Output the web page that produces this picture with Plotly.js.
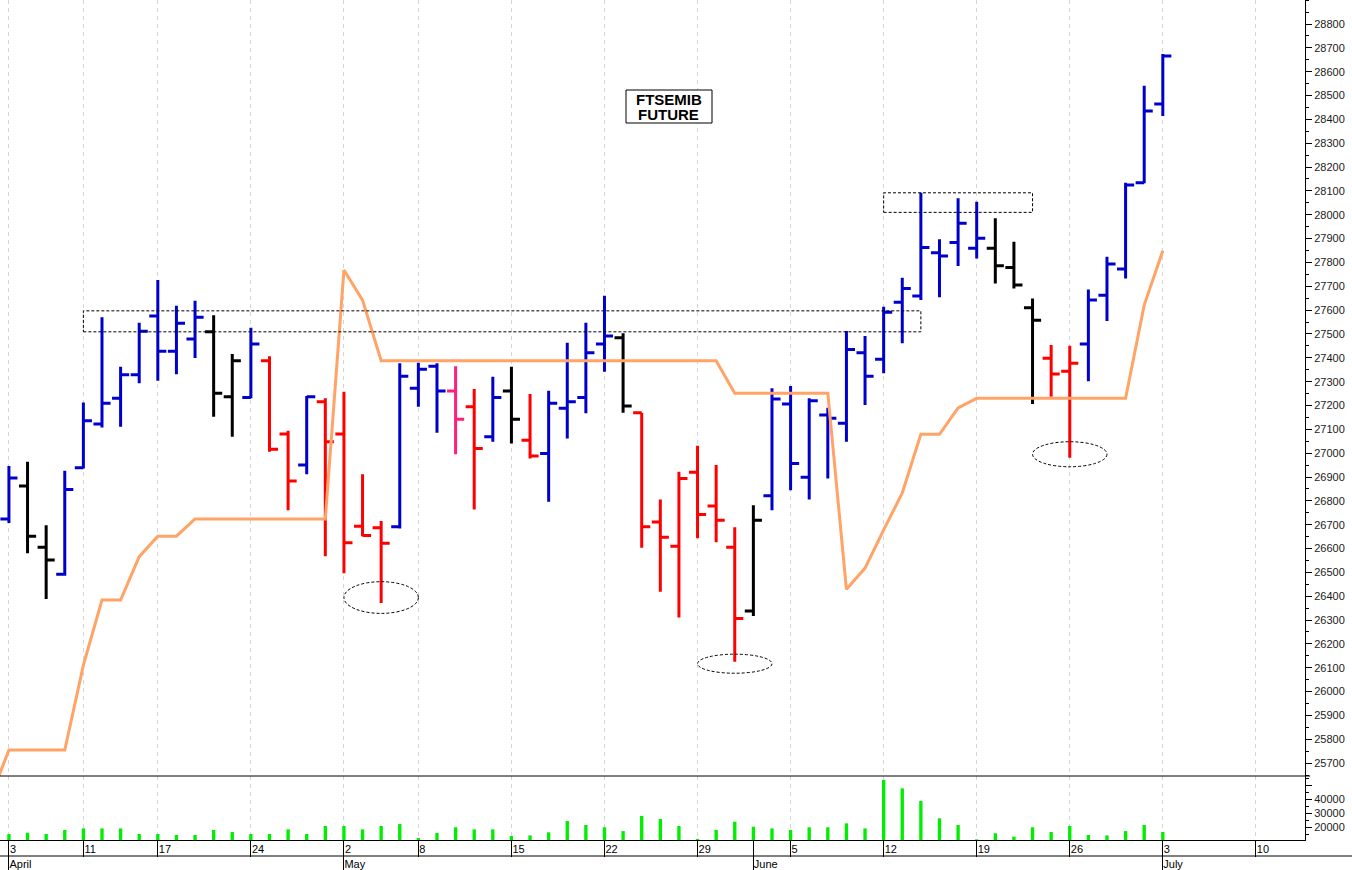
<!DOCTYPE html>
<html>
<head>
<meta charset="utf-8">
<script src="https://cdn.plot.ly/plotly-3.0.1.min.js"></script>
<style>html,body{margin:0;padding:0;background:#fff}#chart{width:1352px;height:870px}</style>
</head>
<body>
<div id="chart"></div>
<script>
// ---- data ----
const dates = [
 '2023-04-03','2023-04-04','2023-04-05','2023-04-06','2023-04-11','2023-04-12','2023-04-13','2023-04-14',
 '2023-04-17','2023-04-18','2023-04-19','2023-04-20','2023-04-21','2023-04-24','2023-04-25','2023-04-26',
 '2023-04-27','2023-04-28','2023-05-02','2023-05-03','2023-05-04','2023-05-05','2023-05-08','2023-05-09',
 '2023-05-10','2023-05-11','2023-05-12','2023-05-15','2023-05-16','2023-05-17','2023-05-18','2023-05-19',
 '2023-05-22','2023-05-23','2023-05-24','2023-05-25','2023-05-26','2023-05-29','2023-05-30','2023-05-31',
 '2023-06-01','2023-06-02','2023-06-05','2023-06-06','2023-06-07','2023-06-08','2023-06-09','2023-06-12',
 '2023-06-13','2023-06-14','2023-06-15','2023-06-16','2023-06-19','2023-06-20','2023-06-21','2023-06-22',
 '2023-06-23','2023-06-26','2023-06-27','2023-06-28','2023-06-29','2023-06-30','2023-07-03'];

const openP  = [26724,26862,26605,26492,26939,27122,27230,27329,27575,27428,27479,27509,27237,27234,27388,27080,
                26950,27216,27080,26694,26687,26691,27272,27365,27261,27195,27069,27261,27054,26999,27188,27234,
                27458,27484,27170,26711,26610,26920,26778,26605,26338,26821,27206,26899,27160,27125,27421,27394,
                27633,27659,27841,27884,27859,27859,27779,27610,27398,27344,27458,27662,27772,28134,28464];
const highP  = [26946,26964,26698,26926,27213,27570,27362,27547,27726,27618,27639,27579,27416,27526,27407,27094,
                27240,27230,27258,26912,26716,27377,27379,27377,27365,27269,27321,27362,27248,27262,27463,27547,
                27660,27503,27170,26806,26922,27031,26950,26689,26782,27272,27282,27230,27191,27512,27491,27614,
                27736,28092,27897,28069,28055,27985,27887,27649,27454,27451,27687,27824,28134,28541,28674];
const lowP   = [26707,26580,26388,26486,26936,27108,27111,27293,27304,27331,27399,27153,27069,27230,27006,26761,
                26912,26568,26496,26652,26372,26684,27195,27086,26996,26764,27048,27041,26978,26796,27062,27167,
                27342,27170,26603,26419,26311,26643,26626,26125,26317,26761,26845,26806,26894,27048,27202,27335,
                27461,27642,27654,27785,27817,27712,27691,27206,27237,26981,27302,27554,27733,28132,28414];
const closeP = [26896,26652,26552,26848,27136,27209,27329,27511,27428,27545,27570,27251,27388,27458,27016,26883,
                27237,27048,26624,26655,26622,27323,27352,27261,27142,27020,27234,27142,26988,27209,27216,27421,
                27491,27198,26691,26647,26894,26743,26719,26307,26719,27227,26957,27220,27146,27435,27323,27591,
                27691,27863,27827,27964,27901,27786,27705,27558,27332,27377,27642,27793,28125,28435,28666];
// bar signal state (colour class of each bar)
const barSignal = ['up','flat','flat','up','up','up','up','up','up','up','up','flat','flat','up','down','down',
                   'up','down','down','down','down','up','up','up','alert','down','up','flat','down','up','up','up',
                   'up','flat','down','down','down','down','down','down','flat','up','up','up','up','up','up','up',
                   'up','up','up','up','up','flat','flat','flat','down','down','up','up','up','up','up'];
// trailing stop line (value of the session before the first bar, then one per bar)
const stopPrev = 25554;
const stopLine = [25755,25755,25755,25755,26111,26384,26384,26566,26652,26652,26724,26724,26724,26724,26724,26724,
                  26724,26724,27768,27642,27388,27388,27388,27388,27388,27388,27388,27388,27388,27388,27388,27388,
                  27388,27388,27388,27388,27388,27388,27388,27251,27251,27251,27251,27251,27251,26429,26518,26678,
                  26833,27079,27079,27190,27230,27230,27230,27230,27230,27230,27230,27230,27230,27621,27849];
const volume = [15000,15900,15000,17900,19000,19000,19000,15000,15000,14300,14300,17900,16400,15000,15000,18300,
                15000,20700,20700,18300,20700,22100,12100,15700,19800,18300,18300,13600,14000,16200,24300,21400,
                19800,17100,27900,25700,20700,11500,17900,23800,20200,19000,17900,19800,19800,22600,19000,53600,
                47600,38600,26200,21400,11200,15500,13100,19800,16400,20700,14300,14000,17100,21400,16400];

// axis labels: trading-session index of each weekly tick and month start
const weekTickIndex = [0,4,8,13,18,22,27,32,37,42,47,52,57,62,67];
const weekTickText  = ['3','11','17','24','2','8','15','22','29','5','12','19','26','3','10'];
const monthTickIndex = [0,18,40,62];
const monthTickText  = ['April','May','June','July'];
const priceTicks = [25700,25800,25900,26000,26100,26200,26300,26400,26500,26600,26700,26800,26900,27000,27100,
                    27200,27300,27400,27500,27600,27700,27800,27900,28000,28100,28200,28300,28400,28500,28600,28700,28800];
const volumeTicks = [20000,30000,40000,50000];
const volumeTickText = ['20000','30000','40000',''];

// annotation zones drawn on the chart
const zoneBoxes = [
  {from:'2023-04-11', to:'2023-06-14', low:27509, high:27597},
  {from:'2023-06-12', to:'2023-06-22', low:28010, high:28092}
];
const zoneCircles = [
  {from:'2023-05-02', to:'2023-05-08', low:26328, high:26461},
  {from:'2023-05-29', to:'2023-06-02', low:26077, high:26157},
  {from:'2023-06-22', to:'2023-06-28', low:26943, high:27048}
];
const titleLines = ['FTSEMIB','FUTURE'];

// ---- build ----
const signalColors = {up:'#0000cc', down:'#ff0000', flat:'#000000', alert:'#ff1f7a'};
const idx = dates.map((d,i)=>i);
const traces = [];
Object.keys(signalColors).forEach(sig=>{
  const sel = idx.filter(i=>barSignal[i]===sig);
  const c = signalColors[sig];
  traces.push({
    type:'ohlc', xaxis:'x', yaxis:'y',
    x: sel, open: sel.map(i=>openP[i]), high: sel.map(i=>highP[i]),
    low: sel.map(i=>lowP[i]), close: sel.map(i=>closeP[i]),
    text: sel.map(i=>dates[i]),
    line:{width:3}, tickwidth:0.46,
    increasing:{line:{color:c, width:3}},
    decreasing:{line:{color:c, width:3}},
    showlegend:false
  });
});
traces.push({
  type:'scatter', mode:'lines', xaxis:'x', yaxis:'y',
  x:[-1].concat(idx), y:[stopPrev].concat(stopLine),
  line:{color:'#ffa366', width:3}, hoverinfo:'y', showlegend:false
});
traces.push({
  type:'bar', xaxis:'x', yaxis:'y2', x:idx, y:volume, width:0.18,
  marker:{color:'#00ee00', line:{width:0}}, hovertext:dates, showlegend:false
});
traces.push({type:'scatter', xaxis:'x2', yaxis:'y', x:[0], y:[null], hoverinfo:'skip', showlegend:false});

const PW = 1305, PH = 840;
const shapes = [];
const dotted = {color:'#000', width:1, dash:'3px,2px'};
zoneBoxes.forEach(z=>shapes.push({type:'rect', xref:'x', yref:'y',
  x0:dates.indexOf(z.from), x1:dates.indexOf(z.to), y0:z.low, y1:z.high, line:dotted, layer:'above'}));
zoneCircles.forEach(z=>shapes.push({type:'circle', xref:'x', yref:'y',
  x0:dates.indexOf(z.from), x1:dates.indexOf(z.to), y0:z.low, y1:z.high, line:dotted, layer:'above'}));
// panel separator and date-row line
shapes.push({type:'line', xref:'paper', yref:'paper', x0:0, x1:1.004, y0:64/PH, y1:64/PH, line:{color:'#000', width:1}});
shapes.push({type:'line', xref:'paper', yref:'paper', x0:0, x1:1352/PW, y0:-16/PH, y1:-16/PH, line:{color:'#000', width:1}});
// title box
shapes.push({type:'rect', xref:'paper', yref:'paper', x0:626/PW, x1:712/PW, y0:(PH-123)/PH, y1:(PH-90)/PH,
  line:{color:'#000', width:1}, fillcolor:'#fff', layer:'above'});

const fontFam = 'Liberation Sans, Arial, sans-serif';
const layout = {
  width:1352, height:870,
  margin:{l:0, r:47, t:0, b:30, pad:0},
  paper_bgcolor:'#fff', plot_bgcolor:'#fff',
  showlegend:false, hovermode:'closest',
  font:{family:fontFam, size:11, color:'#111'},
  xaxis:{
    domain:[0,1], anchor:'y2', range:[-0.48, 69.64],
    tickmode:'array', tickvals:weekTickIndex, ticktext:weekTickText,
    ticks:'outside', ticklen:16, tickcolor:'#000', tickwidth:1,
    ticklabelposition:'outside right', ticklabelstandoff:-1,
    tickfont:{family:fontFam, size:11, color:'#000'},
    showgrid:true, gridcolor:'#d4d4dc', griddash:'4px,4px', gridwidth:1,
    showline:true, linecolor:'#000', linewidth:1, zeroline:false,
    rangeslider:{visible:false}, fixedrange:true
  },
  xaxis2:{
    overlaying:'x', anchor:'free', position:0, side:'bottom', range:[-0.48, 69.64],
    tickmode:'array', tickvals:monthTickIndex, ticktext:monthTickText,
    ticks:'outside', ticklen:30, tickcolor:'#000', tickwidth:1,
    ticklabelposition:'outside right', ticklabelstandoff:14,
    tickfont:{family:fontFam, size:11, color:'#000'},
    showgrid:false, showline:false, zeroline:false, fixedrange:true
  },
  yaxis:{
    domain:[64/PH, 1], anchor:'x', side:'right', range:[25646, 28900.7],
    tickmode:'array', tickvals:priceTicks, ticktext:priceTicks.map(String),
    ticks:'outside', ticklen:6, tickcolor:'#000', tickwidth:1,
    minor:{dtick:50, tick0:0, ticks:'outside', ticklen:3, tickcolor:'#000', showgrid:false},
    tickfont:{family:fontFam, size:11, color:'#1a1a1a'},
    showgrid:false, showline:true, linecolor:'#000', linewidth:1, zeroline:false, fixedrange:true
  },
  yaxis2:{
    domain:[0, 64/PH], anchor:'x', side:'right', range:[10714, 56430],
    tickmode:'array', tickvals:volumeTicks, ticktext:volumeTickText,
    ticks:'outside', ticklen:6, tickcolor:'#000', tickwidth:1,
    minor:{dtick:5000, tick0:0, ticks:'outside', ticklen:3, tickcolor:'#000', showgrid:false},
    tickfont:{family:fontFam, size:11, color:'#1a1a1a'},
    showgrid:false, showline:true, linecolor:'#000', linewidth:1, zeroline:false, fixedrange:true
  },
  shapes: shapes,
  annotations: titleLines.map((t,k)=>({
    xref:'paper', yref:'paper', x:669/PW, y:(PH-(99+k*16))/PH, xanchor:'center', yanchor:'middle',
    text:t, showarrow:false, align:'center',
    font:{family:fontFam, size:15, color:'#000', weight:'bold'}
  }))
};

Plotly.newPlot('chart', traces, layout, {displayModeBar:false, responsive:false});
</script>
</body>
</html>
